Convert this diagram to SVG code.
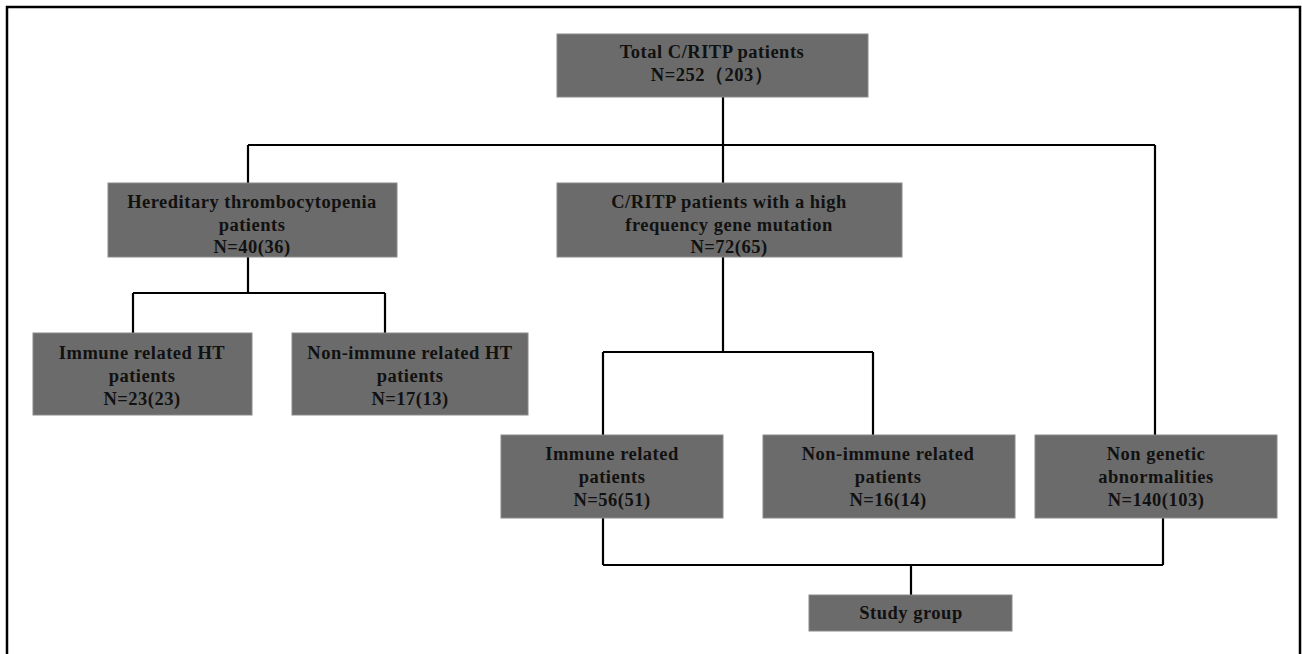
<svg xmlns="http://www.w3.org/2000/svg" width="1302" height="654" viewBox="0 0 1302 654">
<style>
.box{fill:#6b6b6b;stroke:#8a8a8a;stroke-width:1}
.t{font-family:"Liberation Serif","Times New Roman",serif;font-weight:bold;font-size:18.5px;letter-spacing:0.5px;fill:#111;text-anchor:middle}
.c{fill:none;stroke:#000;stroke-width:2.2}
</style>
<rect width="1302" height="654" fill="#fff"/>
<path d="M7 654 V7 H1300 V654" fill="none" stroke="#000" stroke-width="2.5"/>
<g id="connectors">
<path class="c" d="M723 97 V145 M248 145 H1155 M248 145 V183 M723 145 V183 M1155 145 V435"/>
<path class="c" d="M248 257 V293 M133 293 H385 M133 293 V333 M385 293 V333"/>
<path class="c" d="M723 257 V352 M603 352 H873 M603 352 V435 M873 352 V435"/>
<path class="c" d="M603 518 V565 M1163 518 V565 M603 565 H1163 M911 565 V595"/>
</g>
<g id="n-total"><rect class="box" x="557" y="34" width="311" height="63"/>
<text class="t" x="712" y="58">Total C/RITP patients</text><text class="t" x="712" y="81">N=252（203）</text></g>
<g id="n-hered"><rect class="box" x="108" y="183" width="289" height="74"/>
<text class="t" x="252" y="208">Hereditary thrombocytopenia</text><text class="t" x="252" y="231">patients</text><text class="t" x="252" y="253">N=40(36)</text></g>
<g id="n-highfreq"><rect class="box" x="557" y="183" width="345" height="74"/>
<text class="t" x="729" y="208">C/RITP patients with a high</text><text class="t" x="729" y="231">frequency gene mutation</text><text class="t" x="729" y="253">N=72(65)</text></g>
<g id="n-immht"><rect class="box" x="33" y="333" width="219" height="82"/>
<text class="t" x="142" y="359">Immune related  HT</text><text class="t" x="142" y="382">patients</text><text class="t" x="142" y="405">N=23(23)</text></g>
<g id="n-nonimmht"><rect class="box" x="292" y="333" width="236" height="82"/>
<text class="t" x="410" y="359">Non-immune related HT</text><text class="t" x="410" y="382">patients</text><text class="t" x="410" y="405">N=17(13)</text></g>
<g id="n-imm"><rect class="box" x="501" y="435" width="222" height="83"/>
<text class="t" x="612" y="460">Immune related</text><text class="t" x="612" y="483">patients</text><text class="t" x="612" y="506">N=56(51)</text></g>
<g id="n-nonimm"><rect class="box" x="763" y="435" width="252" height="83"/>
<text class="t" x="888" y="460">Non-immune related</text><text class="t" x="888" y="483">patients</text><text class="t" x="888" y="506">N=16(14)</text></g>
<g id="n-nongen"><rect class="box" x="1035" y="435" width="242" height="83"/>
<text class="t" x="1156" y="460">Non genetic</text><text class="t" x="1156" y="483">abnormalities</text><text class="t" x="1156" y="506">N=140(103)</text></g>
<g id="n-study"><rect class="box" x="809" y="595" width="203" height="36"/>
<text class="t" x="911" y="619">Study  group</text></g>
</svg>
